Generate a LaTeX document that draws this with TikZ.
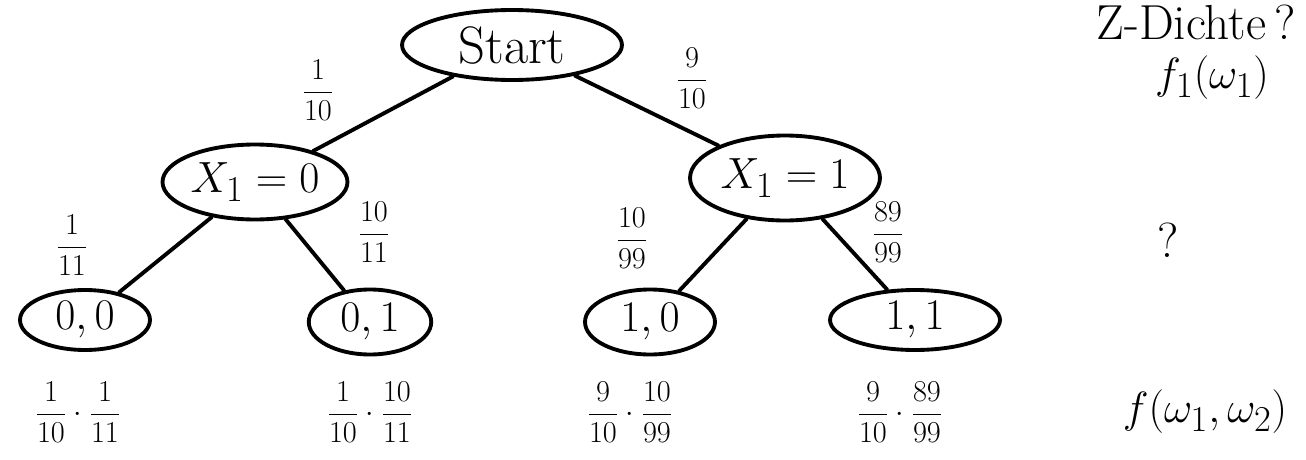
\documentclass[tikz,border=0pt]{standalone}
\usetikzlibrary{shapes.geometric}
\begin{document}
\begin{tikzpicture}[x=0.02cm,y=-0.02cm,
  oval/.style={draw,ellipse,line width=2.2pt,inner sep=0pt,font=\fontsize{30}{36}\selectfont},
  edge/.style={line width=2.2pt,line cap=round},
  lbl/.style={font=\fontsize{18}{22}\selectfont,inner sep=1pt},
  side/.style={font=\fontsize{28}{34}\selectfont,inner sep=1pt}]
\useasboundingbox (0,0) rectangle (1306,460);
% tree nodes
\node[oval,minimum width=4.4cm,minimum height=1.4cm] (s) at (512,45) {Start};
\node[oval,minimum width=3.7cm,minimum height=1.5cm] (a0) at (255,182) {$X_1=0$};
\node[oval,minimum width=3.8cm,minimum height=1.7cm] (a1) at (785,178) {$X_1=1$};
\node[oval,minimum width=2.6cm,minimum height=1.2cm] (b00) at (85,320) {$0,0$};
\node[oval,minimum width=2.45cm,minimum height=1.3cm] (b01) at (370,322) {$0,1$};
\node[oval,minimum width=2.6cm,minimum height=1.3cm] (b10) at (650,322) {$1,0$};
\node[oval,minimum width=3.4cm,minimum height=1.2cm] (b11) at (915,320) {$1,1$};
% connectors
\draw[edge] (s) -- (a0);
\draw[edge] (s) -- (a1);
\draw[edge] (a0) -- (b00);
\draw[edge] (a0) -- (b01);
\draw[edge] (a1) -- (b10);
\draw[edge] (a1) -- (b11);
% edge labels
\node[lbl] (l1) at (318,90) {$\displaystyle\frac{1}{10}$};
\node[lbl] (l2) at (692,78) {$\displaystyle\frac{9}{10}$};
\node[lbl] (l3) at (72,245) {$\displaystyle\frac{1}{11}$};
\node[lbl] (l4) at (374,232) {$\displaystyle\frac{10}{11}$};
\node[lbl] (l5) at (632,238) {$\displaystyle\frac{10}{99}$};
\node[lbl] (l6) at (888,232) {$\displaystyle\frac{89}{99}$};
% leaf products
\node[lbl] (p1) at (78,412) {$\displaystyle\frac{1}{10}\cdot\frac{1}{11}$};
\node[lbl] (p2) at (370,412) {$\displaystyle\frac{1}{10}\cdot\frac{10}{11}$};
\node[lbl] (p3) at (630,412) {$\displaystyle\frac{9}{10}\cdot\frac{10}{99}$};
\node[lbl] (p4) at (900,412) {$\displaystyle\frac{9}{10}\cdot\frac{89}{99}$};
% right column
\node[side] (t1) at (1196,22) {Z-Dichte\,?};
\node[side] (t2) at (1212,78) {$f_1(\omega_1)$};
\node[side] (t3) at (1168,240) {?};
\node[side] (t4) at (1205,412) {$f(\omega_1,\omega_2)$};
\end{tikzpicture}
\end{document}
